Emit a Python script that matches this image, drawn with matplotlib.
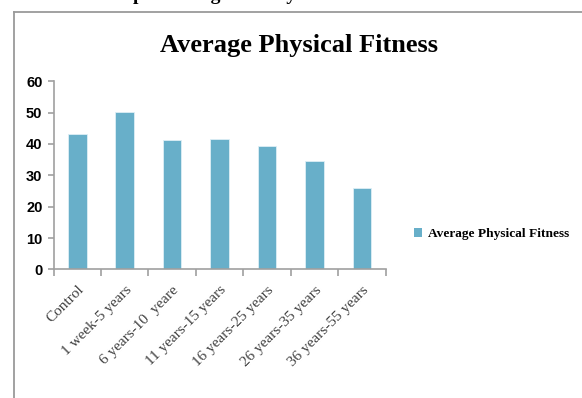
import numpy as np
import matplotlib.pyplot as plt
from matplotlib.lines import Line2D
from matplotlib.patches import Patch

# data
categories = ['Control', '1 week-5 years', '6 years-10  yeare', '11 years-15 years',
              '16 years-25 years', '26 years-35 years', '36 years-55 years']
values = [43.3, 50.2, 41.1, 41.5, 39.5, 34.5, 26.1]
y_ticks = [0, 10, 20, 30, 40, 50, 60]
series_name = 'Average Physical Fitness'

bar_color = '#68AFC9'
axis_gray = '#A0A0A0'

fig = plt.figure(figsize=(5.82, 3.98), dpi=100)
ax = fig.add_axes([0.092, 0.323, 0.571, 0.473])

x = np.arange(len(categories))
bars = ax.bar(x, values, width=0.39, color=bar_color, edgecolor='#DDEFF5', linewidth=0.6)

ax.set_xlim(-0.5, len(categories) - 0.5)
ax.set_ylim(0, 60)
ax.set_yticks(y_ticks)
ax.set_yticklabels([str(t) for t in y_ticks], fontsize=10.5, fontweight='bold',
                   family='Liberation Sans')

ax.set_xticks(x)
ax.set_xticklabels(categories, rotation=45, ha='right', va='top', rotation_mode='anchor',
                   fontsize=11, family='Liberation Serif', color='#404040')
ax.tick_params(axis='x', which='major', length=0, pad=10)
ax.set_xticks(np.arange(-0.5, len(categories), 1.0), minor=True)
ax.tick_params(axis='x', which='minor', length=5, color=axis_gray, width=1.2, direction='out')
ax.tick_params(axis='y', length=4, color=axis_gray, width=1.2, direction='out', pad=4)

for side in ['top', 'right']:
    ax.spines[side].set_visible(False)
for side in ['left', 'bottom']:
    ax.spines[side].set_color(axis_gray)
    ax.spines[side].set_linewidth(1.2)

# title
fig.text(0.513, 0.885, 'Average Physical Fitness', ha='center', va='center',
         fontsize=19, fontweight='bold', family='Liberation Serif')

# legend
leg = fig.legend(handles=[Patch(facecolor=bar_color, edgecolor='none', label=series_name)],
                 loc='center left', bbox_to_anchor=(0.69, 0.412), frameon=False,
                 prop={'family': 'Liberation Serif', 'weight': 'bold', 'size': 9.6},
                 handlelength=0.6, handleheight=0.6, handletextpad=0.5)

# chart frame (cut by the page edges)
fx = 14 / 582
fy = 1 - 12 / 398
fig.add_artist(Line2D([fx, fx], [0, fy], transform=fig.transFigure, color='#9A9A9A', lw=1.3))
fig.add_artist(Line2D([fx, 1], [fy, fy], transform=fig.transFigure, color='#9A9A9A', lw=1.3))

# cut-off caption of the page above the chart
fig.text(-0.01, 1.012, 'rkers in tobacco processing industry', ha='left', va='center',
         fontsize=14, fontweight='bold', family='Liberation Serif')

fig.savefig('out.png', dpi=100)
